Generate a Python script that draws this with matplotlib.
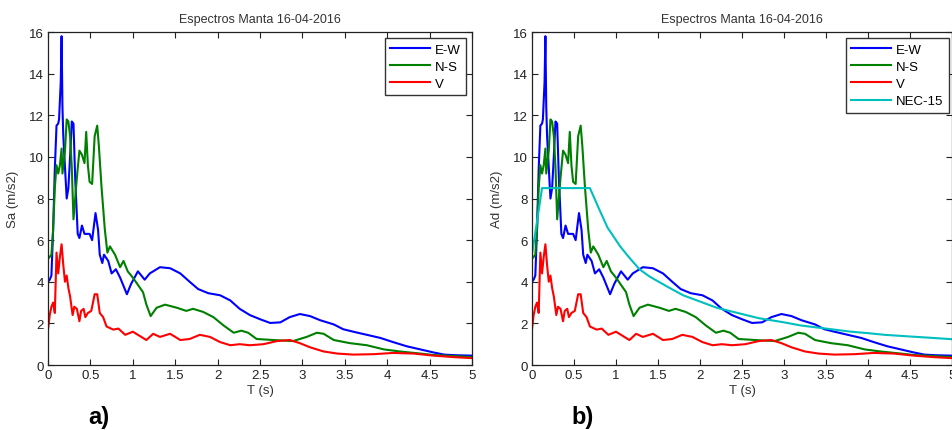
import matplotlib
matplotlib.use("Agg")
import matplotlib.pyplot as plt

plt.rcParams['font.family'] = ['Liberation Sans', 'DejaVu Sans']

# Espectros Manta 16-04-2016
t_ew = [0.0, 0.02, 0.04, 0.06, 0.08, 0.10, 0.12, 0.13, 0.15, 0.16, 0.17, 0.18, 0.20, 0.22,
        0.24, 0.26, 0.28, 0.30, 0.32, 0.35, 0.37, 0.40, 0.43, 0.49, 0.52, 0.56, 0.59, 0.61,
        0.64, 0.66, 0.71, 0.75, 0.80, 0.85, 0.88, 0.93, 0.98, 1.06, 1.14, 1.20, 1.32, 1.44,
        1.56, 1.67, 1.77, 1.89, 2.03, 2.15, 2.26, 2.38, 2.50, 2.62, 2.74, 2.85, 2.97, 3.09,
        3.21, 3.37, 3.48, 3.60, 3.76, 3.92, 4.07, 4.23, 4.39, 4.55, 4.67, 4.80, 5.0]
sa_ew = [4.0, 4.1, 4.3, 6.5, 9.4, 11.5, 11.6, 11.8, 13.6, 15.8, 12.4, 11.0, 9.5, 8.0,
         8.5, 10.0, 11.7, 11.6, 9.0, 6.3, 6.1, 6.7, 6.3, 6.3, 6.0, 7.3, 6.5, 5.3,
         4.9, 5.3, 5.0, 4.4, 4.6, 4.2, 3.9, 3.4, 3.9, 4.5, 4.1, 4.4, 4.7, 4.65,
         4.4, 4.0, 3.65, 3.45, 3.35, 3.1, 2.7, 2.4, 2.2, 2.02, 2.05, 2.3, 2.45, 2.35,
         2.15, 1.95, 1.72, 1.6, 1.45, 1.3, 1.1, 0.9, 0.75, 0.6, 0.5, 0.47, 0.45]

t_ns = [0.0, 0.04, 0.06, 0.08, 0.10, 0.12, 0.14, 0.16, 0.17, 0.20, 0.22, 0.24, 0.26, 0.28,
        0.30, 0.32, 0.34, 0.37, 0.40, 0.43, 0.45, 0.47, 0.49, 0.52, 0.55, 0.58, 0.60, 0.63,
        0.67, 0.70, 0.73, 0.79, 0.85, 0.89, 0.94, 1.00, 1.12, 1.16, 1.21, 1.28, 1.38, 1.52,
        1.63, 1.71, 1.83, 1.95, 2.07, 2.19, 2.28, 2.36, 2.46, 2.66, 2.89, 3.05, 3.17, 3.25,
        3.37, 3.56, 3.76, 3.96, 4.15, 4.39, 4.55, 5.0]
sa_ns = [5.1, 5.3, 6.5, 8.5, 9.6, 9.2, 9.6, 10.4, 9.2, 10.3, 11.8, 11.7, 11.0, 9.5,
         7.0, 8.0, 9.0, 10.3, 10.1, 9.7, 11.2, 9.6, 8.8, 8.7, 11.0, 11.5, 10.5, 8.6,
         6.5, 5.4, 5.7, 5.3, 4.7, 5.0, 4.5, 4.2, 3.5, 2.9, 2.35, 2.75, 2.9, 2.75,
         2.6, 2.7, 2.55, 2.3, 1.9, 1.55, 1.65, 1.55, 1.25, 1.2, 1.15, 1.35, 1.55, 1.5,
         1.2, 1.05, 0.95, 0.75, 0.65, 0.55, 0.48, 0.38]

t_v = [0.0, 0.02, 0.04, 0.06, 0.08, 0.10, 0.12, 0.14, 0.16, 0.18, 0.20, 0.22, 0.24, 0.26,
       0.29, 0.31, 0.34, 0.37, 0.39, 0.42, 0.44, 0.47, 0.51, 0.55, 0.58, 0.61, 0.65, 0.69,
       0.77, 0.83, 0.91, 1.00, 1.08, 1.16, 1.24, 1.32, 1.44, 1.56, 1.67, 1.79, 1.91, 2.03,
       2.15, 2.26, 2.38, 2.54, 2.70, 2.85, 2.97, 3.09, 3.25, 3.41, 3.60, 3.84, 4.07, 4.31,
       4.55, 4.78, 5.0]
sa_v = [1.7, 2.4, 2.8, 3.0, 2.5, 5.4, 4.4, 5.2, 5.8, 4.8, 4.0, 4.3, 3.7, 3.3,
        2.4, 2.8, 2.7, 2.1, 2.6, 2.7, 2.3, 2.5, 2.6, 3.4, 3.4, 2.5, 2.3, 1.85,
        1.7, 1.75, 1.45, 1.6, 1.4, 1.2, 1.5, 1.35, 1.5, 1.2, 1.25, 1.45, 1.35, 1.1,
        0.95, 1.0, 0.95, 1.0, 1.15, 1.2, 1.05, 0.85, 0.65, 0.55, 0.5, 0.52, 0.58, 0.55,
        0.45, 0.38, 0.33]

t_nec = [0.0, 0.12, 0.69, 0.81, 0.90, 1.05, 1.15, 1.28, 1.40, 1.64, 1.80, 2.0, 2.2, 2.5,
         2.7, 3.0, 3.2, 3.5, 3.8, 4.0, 4.2, 4.5, 4.7, 5.0]
sa_nec = [5.3, 8.5, 8.5, 7.4, 6.6, 5.7, 5.2, 4.6, 4.25, 3.7, 3.35, 3.05, 2.75, 2.45,
          2.25, 2.05, 1.9, 1.75, 1.6, 1.53, 1.45, 1.37, 1.32, 1.24]

x_ticks = [0, 0.5, 1, 1.5, 2, 2.5, 3, 3.5, 4, 4.5, 5]
x_labels = ['0', '0.5', '1', '1.5', '2', '2.5', '3', '3.5', '4', '4.5', '5']
y_ticks = [0, 2, 4, 6, 8, 10, 12, 14, 16]

BLUE, GREEN, RED, CYAN = '#0000ff', '#008000', '#ff0000', '#00bfbf'


def style_axes(ax, ylabel, tag):
    ax.set_xlim(0, 5)
    ax.set_ylim(0, 16)
    ax.set_xticks(x_ticks)
    ax.set_xticklabels(x_labels)
    ax.set_yticks(y_ticks)
    ax.tick_params(direction='in', top=True, right=True, length=4, width=0.8,
                   labelsize=9.5, colors='#222222', pad=3)
    for sp in ax.spines.values():
        sp.set_color('#222222')
        sp.set_linewidth(0.9)
    ax.set_title('Espectros Manta 16-04-2016', fontsize=9, color='#333333', pad=7)
    ax.set_xlabel('T (s)', fontsize=9.5, color='#333333', labelpad=2)
    ax.set_ylabel(ylabel, fontsize=9.5, color='#333333', labelpad=7)
    ax.text(0.12, -0.155, tag, transform=ax.transAxes, fontsize=17, fontweight='bold',
            ha='center', va='center', color='black')


fig = plt.figure(figsize=(9.53, 4.31), dpi=100)
ax_a = fig.add_axes([0.0504, 0.1508, 0.4449, 0.7726])
ax_b = fig.add_axes([0.5582, 0.1508, 0.4407, 0.7726])

for ax in (ax_a, ax_b):
    ax.plot(t_ew, sa_ew, color=BLUE, lw=1.5, label='E-W')
    ax.plot(t_ns, sa_ns, color=GREEN, lw=1.5, label='N-S')
    ax.plot(t_v, sa_v, color=RED, lw=1.5, label='V')
ax_b.plot(t_nec, sa_nec, color=CYAN, lw=1.5, label='NEC-15')

style_axes(ax_a, 'Sa (m/s2)', 'a)')
style_axes(ax_b, 'Ad (m/s2)', 'b)')

for ax, anchor in ((ax_a, (0.986, 0.982)), (ax_b, (0.993, 0.982))):
    leg = ax.legend(loc='upper right', bbox_to_anchor=anchor, borderaxespad=0,
                    fontsize=9.5, handlelength=3.0, handletextpad=0.4, labelspacing=0.38,
                    borderpad=0.4, fancybox=False, framealpha=1)
    leg.get_frame().set_edgecolor('#333333')
    leg.get_frame().set_linewidth(1.0)

fig.savefig('out.png', dpi=100)
